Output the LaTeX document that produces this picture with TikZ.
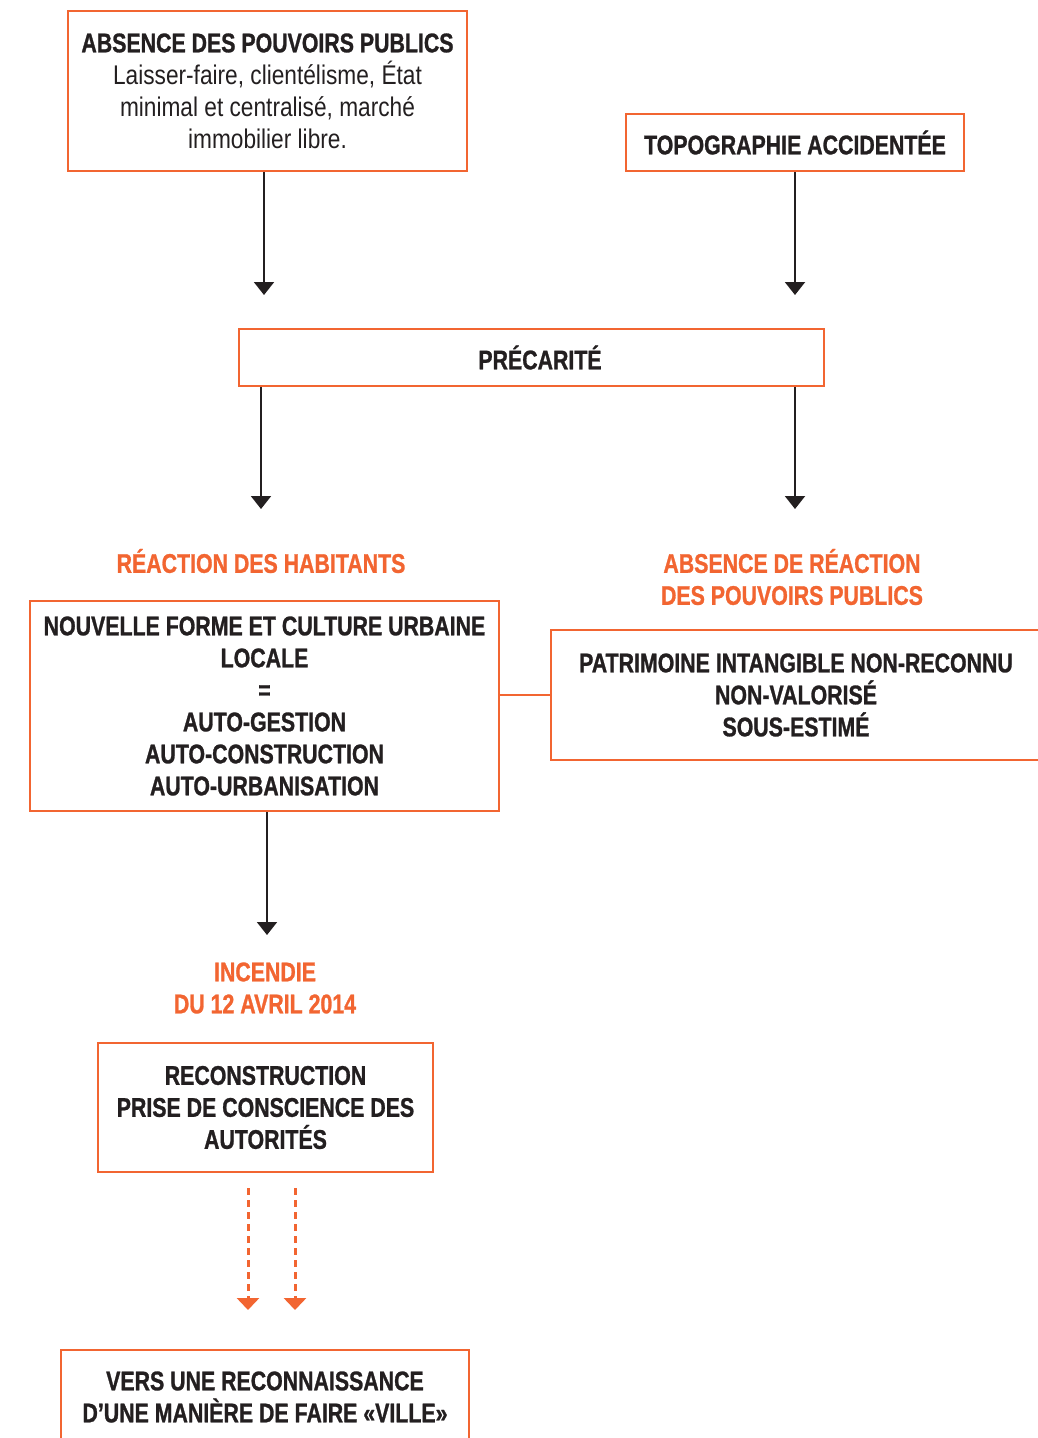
\documentclass[tikz,border=0pt]{standalone}
\usepackage{fontspec}
\setmainfont{Liberation Sans}[FakeStretch=0.84,BoldFeatures={FakeStretch=0.79,FakeBold=1}]
\usetikzlibrary{arrows.meta,positioning}
\definecolor{cborange}{HTML}{F26531}
\definecolor{cbtext}{HTML}{231F20}

\begin{document}
\begin{tikzpicture}[
  x=1pt, y=-1pt,
  box/.style={draw=cborange, line width=2.4pt, align=center, inner sep=0pt,
    font=\fontsize{27}{32}\selectfont\bfseries, text=cbtext},
  heading/.style={align=center, inner sep=0pt,
    font=\fontsize{27}{32}\selectfont\bfseries, text=cborange},
  arrow/.style={-{Triangle[width=20pt,length=13pt]}, line width=2pt, cbtext},
  dasharrow/.style={-{Triangle[width=22pt,length=12pt]}, line width=3pt,
    cborange, dash pattern=on 7pt off 5pt}
]
  \clip (0,0) rectangle (1038,1438);

  % --- Causes ---
  \node[box, minimum width=399pt, minimum height=160pt] (pouvoirs) at (267.5,91)
    {ABSENCE DES POUVOIRS PUBLICS\\ \mdseries Laisser-faire, clientélisme, État\\
     \mdseries minimal et centralisé, marché\\ \mdseries immobilier libre.};
  \node[box, minimum width=338pt, minimum height=57pt] (topo) at (795,142.5)
    {TOPOGRAPHIE ACCIDENTÉE};

  % --- Precarity ---
  \node[box, minimum width=585pt, minimum height=57pt] (precarite) at (531.5,357.5)
    {\hspace*{17pt}PRÉCARITÉ};

  % --- Reactions ---
  \node[heading] (habitants) at (261,561) {RÉACTION DES HABITANTS};
  \node[heading] (absence) at (792,577) {ABSENCE DE RÉACTION\\DES POUVOIRS PUBLICS};

  \node[box, minimum width=469pt, minimum height=210pt] (forme) at (264.5,706)
    {NOUVELLE FORME ET CULTURE URBAINE\\LOCALE\\=\\AUTO-GESTION\\
     AUTO-CONSTRUCTION\\AUTO-URBANISATION};
  \node[box, minimum width=490pt, minimum height=130pt] (patrimoine) at (796,695)
    {PATRIMOINE INTANGIBLE NON-RECONNU\\NON-VALORISÉ\\SOUS-ESTIMÉ};

  % --- Fire ---
  \node[heading] (incendie) at (265,988) {INCENDIE\\DU 12 AVRIL 2014};
  \node[box, minimum width=335pt, minimum height=129pt] (reconstruction) at (265.5,1107.5)
    {RECONSTRUCTION\\PRISE DE CONSCIENCE DES\\AUTORITÉS};

  % --- Outcome ---
  \node[box, minimum width=408pt, minimum height=94pt] (ville) at (265,1397)
    {VERS UNE RECONNAISSANCE\\D’UNE MANIÈRE DE FAIRE «VILLE»};

  % Arrow tips
  \coordinate (tipA) at (264,295);
  \coordinate (tipB) at (795,295);
  \coordinate (tipC) at (261,509);
  \coordinate (tipD) at (795,509);
  \coordinate (tipE) at (267,935);
  \coordinate (tipF) at (248,1310);
  \coordinate (tipG) at (295,1310);

  % Causes -> precarity
  \draw[arrow] (pouvoirs.south -| tipA) -- (tipA);
  \draw[arrow] (topo.south -| tipB) -- (tipB);

  % Precarity -> reactions
  \draw[arrow] (precarite.south -| tipC) -- (tipC);
  \draw[arrow] (precarite.south -| tipD) -- (tipD);

  % Link between the two outcomes
  \draw[cborange, line width=2.4pt] (patrimoine.west) -- (patrimoine.west -| forme.east);

  % Urban form -> fire
  \draw[arrow] (forme.south -| tipE) -- (tipE);

  % Reconstruction -> recognition
  \draw[dasharrow] ([yshift=-15pt]reconstruction.south -| tipF) -- (tipF);
  \draw[dasharrow] ([yshift=-15pt]reconstruction.south -| tipG) -- (tipG);

\end{tikzpicture}
\end{document}
